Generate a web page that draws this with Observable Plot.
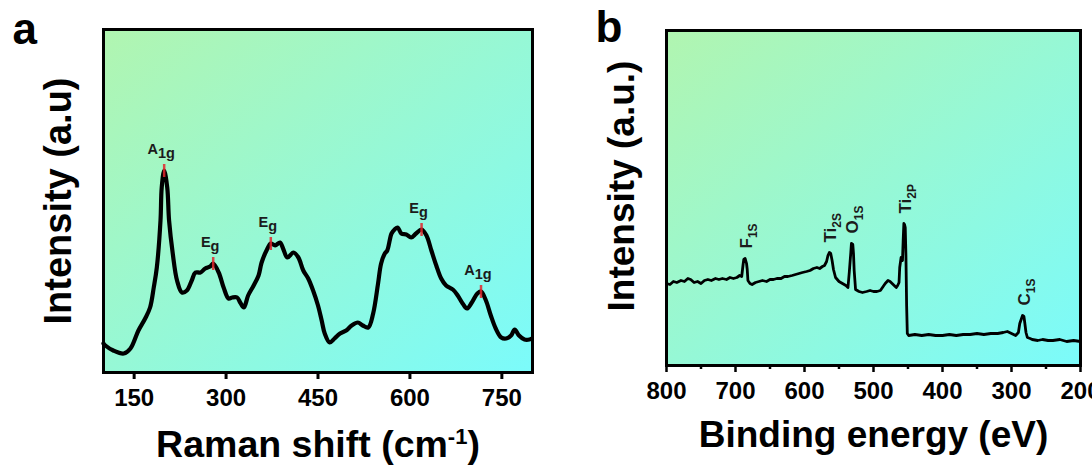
<!DOCTYPE html>
<html>
<head>
<meta charset="utf-8">
<script src="https://cdn.jsdelivr.net/npm/d3@7"></script>
<script src="https://cdn.jsdelivr.net/npm/@observablehq/plot@0.6"></script>
<style>
  html, body { margin: 0; padding: 0; background: #fff; }
  #fig { display: flex; width: 1092px; height: 472px; overflow: hidden; }
  #fig svg { flex: none; overflow: visible; }
</style>
</head>
<body>
<div id="fig"></div>
<script>
// ---- Panel a: Raman spectrum ----
const ramanShift = [100,103,116,133,144,157,168,176,182,187,193,195,199,204,207,213,220,228,236,244,
  250,258,266,274,279,288,296,304,310,318,323,329,336,345,353,358,366,373,380,388,
  393,400,410,418,426,434,442,450,456,461,469,477,486,496,505,515,523,532,540,548,
  553,559,563,570,575,580,586,594,602,610,619,627,635,643,651,659,670,678,686,693,
  701,710,716,724,732,740,749,757,765,771,778,787,795,799];
const ramanIntensity = [29,27,22,19,24,42,54,65,85,105,152,185,202,185,152,119,92,80,82,92,
  100,100,104,106,109,100,85,74,75,75,70,65,77,87,97,110,122,129,127,130,
  124,115,120,115,102,94,82,67,52,39,30,34,39,42,47,50,47,45,59,89,
  109,119,122,139,143,145,139,138,135,139,143,137,122,107,94,87,83,77,69,64,
  70,79,81,72,57,44,35,34,37,43,37,33,33,34];
const ramanPeakShift = [199, 279, 373, 619, 716];
const ramanPeakMode = ["A", "E", "E", "E", "A"];
const ramanPeakSub = ["1g", "g", "g", "g", "1g"];
const ramanTicks = [150, 300, 450, 600, 750];
const ramanXTitle = ["Raman shift (cm", "-1", ")"];
const ramanYTitle = "Intensity (a.u)";

// ---- Panel b: XPS survey spectrum ----
const bindingEnergy = [800,795,790,785,779,774,769,765,760,755,750,745,740,735,729,724,719,713,708,703,
  698,694,691,689,688,686,684,683,682,679,676,671,666,661,655,650,645,640,634,629,
  624,618,613,608,603,597,592,587,582,578,574,571,568,566,564,562,560,558,555,550,
  545,540,537,535,533,532,530,529,528,526,521,516,510,505,500,495,490,486,483,479,
  476,473,470,467,465,463,462,460,458,457,456,455,454,453,452,451,449,440,430,420,
  410,400,390,380,370,360,350,340,330,320,312,306,300,294,290,288,286,284,282,281,
  279,277,273,270,262,255,247,240,230,220,210,200];
const xpsIntensity = [82,81,84,83,85,84,87,86,83,84,82,85,86,85,87,86,87,86,88,87,
  88,90,89,101,106,107,102,96,85,82,81,83,84,85,84,86,86,87,87,89,
  89,90,91,92,93,94,95,97,98,97,99,100,104,110,113,112,105,96,88,84,
  82,80,78,94,112,122,121,112,95,76,74,73,74,75,74,74,75,79,82,85,
  84,82,80,78,80,83,98,108,105,125,142,141,138,110,60,32,30,31,30,31,
  30,30,31,30,31,31,32,31,32,32,33,34,32,30,33,42,46,50,49,44,
  33,28,27,26,25,26,25,25,26,24,25,24];
const xpsPeakEnergy = [686, 564, 532, 456, 284];
const xpsPeakElement = ["F", "Ti", "O", "Ti", "C"];
const xpsPeakSub = ["1S", "2S", "1S", "2P", "1S"];
const xpsTicks = [800, 700, 600, 500, 400, 300, 200];
const xpsMinorTicks = [750, 650, 550, 450, 350, 250];
const xpsXTitle = "Binding energy (eV)";
const xpsYTitle = "Intensity (a.u.)";

// Panel background colours (diagonal gradient)
const bgStart = "#b1f5b0";
const bgEnd = "#7bfbfb";
const font = "'Liberation Sans', Arial, Helvetica, sans-serif";

const raman = ramanShift.map((x, i) => ({x, y: ramanIntensity[i]}));
const ramanPeaks = ramanPeakShift.map((x, i) => ({
  x, y: ramanIntensity[ramanShift.indexOf(x)], label: ramanPeakMode[i]
}));
const xps = bindingEnergy.map((x, i) => ({x, y: xpsIntensity[i]}));
const xpsPeaks = xpsPeakEnergy.map((x, i) => ({
  x, y: xpsIntensity[bindingEnergy.indexOf(x)], label: xpsPeakElement[i]
}));

function addGradient(svg, id) {
  const defs = d3.select(svg).insert("defs", ":first-child");
  const g = defs.append("linearGradient").attr("id", id)
    .attr("x1", 0).attr("y1", 0).attr("x2", 1).attr("y2", 1);
  g.append("stop").attr("offset", "0%").attr("stop-color", bgStart);
  g.append("stop").attr("offset", "100%").attr("stop-color", bgEnd);
}

// The n-th text mark group of a plot (axes use their own labels)
function textGroup(svg, n) {
  return d3.select(d3.select(svg).selectAll('g[aria-label="text"]').nodes()[n]);
}

// Rebuild each label as base text plus a shifted trailing part
function addSubscripts(group, subs, shift, size) {
  group.selectAll("text").each(function (_, i) {
    const t = d3.select(this);
    const base = t.text();
    t.text(null);
    t.append("tspan").text(base);
    const s = t.append("tspan").attr("dy", shift).text(subs[i]);
    if (size) s.attr("font-size", size);
  });
}

const common = {
  width: 546,
  height: 472,
  style: {fontFamily: font, fontWeight: "bold", color: "#000", background: "transparent", overflow: "visible"}
};

// ---------- Panel a ----------
const plotA = Plot.plot({
  ...common,
  marginLeft: 103, marginRight: 14, marginTop: 29, marginBottom: 100,
  x: {domain: [100, 800], label: null},
  y: {domain: [0, 343], axis: null},
  marks: [
    Plot.frame({fill: "url(#bgA)", stroke: null}),
    Plot.axisX(ramanTicks, {tickSize: 7, tickPadding: 9, fontSize: 24, strokeWidth: 3, label: null}),
    Plot.line(raman, {x: "x", y: "y", stroke: "#000", strokeWidth: 4.2, curve: "catmull-rom", strokeLinejoin: "round"}),
    Plot.ruleX(ramanPeaks, {x: "x", y1: d => d.y + 6, y2: d => d.y - 7, stroke: "#e3262c", strokeWidth: 2.5, strokeOpacity: 0.85}),
    Plot.text(ramanPeaks, {x: "x", y: "y", text: "label", dy: -17, dx: -3, lineAnchor: "bottom", fontSize: 14.5, fontWeight: "bold", fill: "#1b1b1b"}),
    Plot.frame({stroke: "#000", strokeWidth: 3}),
    Plot.text([ramanXTitle.join("")], {frameAnchor: "bottom", dy: 84, textAnchor: "middle", lineAnchor: "bottom", fontSize: 37.5, fontWeight: "bold"}),
    Plot.text([ramanYTitle], {frameAnchor: "left", dx: -33, rotate: -90, textAnchor: "middle", lineAnchor: "bottom", fontSize: 38, fontWeight: "bold"}),
    Plot.text(["a"], {frameAnchor: "top-left", dx: -91, dy: 14, textAnchor: "start", lineAnchor: "bottom", fontSize: 44, fontWeight: "bold"})
  ]
});
addGradient(plotA, "bgA");
addSubscripts(textGroup(plotA, 0), ramanPeakSub, 4, null);
// superscript "-1" before the closing parenthesis
textGroup(plotA, 1).selectAll("text").each(function () {
  const t = d3.select(this);
  t.text(null);
  t.append("tspan").text(ramanXTitle[0]);
  t.append("tspan").attr("dy", -13).attr("font-size", 22).text(ramanXTitle[1]);
  t.append("tspan").attr("dy", 13).text(ramanXTitle[2]);
});

// ---------- Panel b ----------
const plotB = Plot.plot({
  ...common,
  marginLeft: 120, marginRight: 12, marginTop: 30, marginBottom: 107,
  x: {domain: [800, 200], label: null},
  y: {domain: [0, 335], axis: null},
  marks: [
    Plot.frame({fill: "url(#bgB)", stroke: null}),
    Plot.axisX(xpsTicks, {tickSize: 7, tickPadding: 9, fontSize: 24, strokeWidth: 2.5, label: null}),
    Plot.axisX(xpsMinorTicks, {tickSize: 4, strokeWidth: 2.5, tickFormat: () => "", label: null}),
    Plot.line(xps, {x: "x", y: "y", stroke: "#000", strokeWidth: 2.8, strokeLinejoin: "round"}),
    Plot.text(xpsPeaks, {x: "x", y: "y", text: "label", rotate: -90, textAnchor: "start", lineAnchor: "bottom", dx: 7, dy: -10, fontSize: 17, fontWeight: "bold", fill: "#1b1b1b"}),
    Plot.frame({stroke: "#000", strokeWidth: 3}),
    Plot.text([xpsXTitle], {frameAnchor: "bottom", dy: 81, textAnchor: "middle", lineAnchor: "bottom", fontSize: 37, fontWeight: "bold"}),
    Plot.text([xpsYTitle], {frameAnchor: "left", dx: -33, dy: -12, rotate: -90, textAnchor: "middle", lineAnchor: "bottom", fontSize: 37, fontWeight: "bold"}),
    Plot.text(["b"], {frameAnchor: "top-left", dx: -71, dy: 11, textAnchor: "start", lineAnchor: "bottom", fontSize: 44, fontWeight: "bold"})
  ]
});
addGradient(plotB, "bgB");

document.getElementById("fig").append(plotA, plotB);

// Upright element labels: the subscript is its own rotated text,
// placed right after the element symbol along the reading direction
{
  const fallbackEm = {F: 0.611, Ti: 0.889, O: 0.778, C: 0.722};
  const group = textGroup(plotB, 0);
  group.selectAll("text").each(function (_, i) {
    let len = 0;
    try { len = this.getComputedTextLength(); } catch (e) { len = 0; }
    if (!(len > 0)) len = (fallbackEm[xpsPeakElement[i]] || 0.7) * 17;
    const m = /translate\(([-\d.e]+),\s*([-\d.e]+)\)/.exec(this.getAttribute("transform") || "");
    const X = m ? +m[1] : 0, Y = m ? +m[2] : 0;
    group.append("text")
      .attr("transform", `translate(${X + 5},${Y - len}) rotate(-90)`)
      .attr("font-size", 12)
      .text(xpsPeakSub[i]);
  });
}
</script>
</body>
</html>
